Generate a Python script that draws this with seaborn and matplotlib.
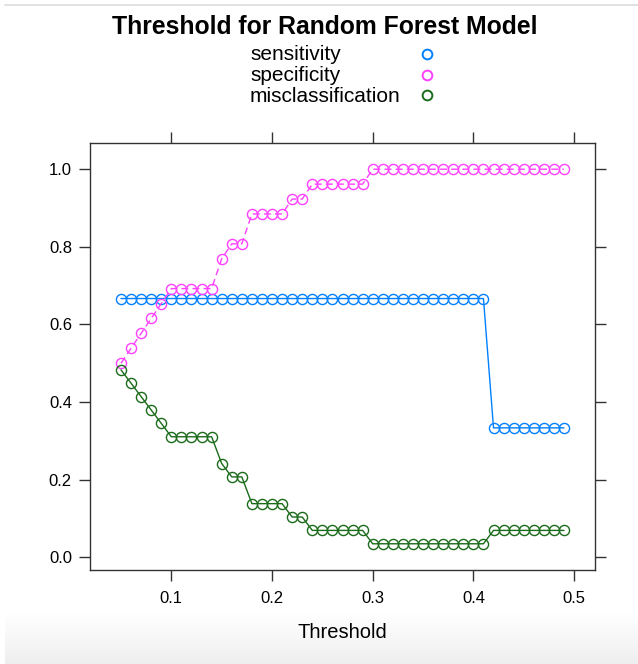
import numpy as np
import pandas as pd
import matplotlib
matplotlib.use("Agg")
import matplotlib.pyplot as plt
import seaborn as sns

# Classification metrics of the random forest across probability cut-offs
threshold = [round(0.05 + 0.01 * i, 2) for i in range(45)]

sensitivity = [2/3] * 37 + [1/3] * 8

specificity = ([13/26, 14/26, 15/26, 16/26, 17/26]
               + [18/26] * 5
               + [20/26]
               + [21/26] * 2
               + [23/26] * 4
               + [24/26] * 2
               + [25/26] * 6
               + [1.0] * 20)

misclassification = ([14/29, 13/29, 12/29, 11/29, 10/29]
                     + [9/29] * 5
                     + [7/29]
                     + [6/29] * 2
                     + [4/29] * 4
                     + [3/29] * 2
                     + [2/29] * 6
                     + [1/29] * 12
                     + [2/29] * 8)

series_names = ["sensitivity", "specificity", "misclassification"]
series_colors = ["#0080ff", "#ff40ff", "#1a6b1a"]
series_dashes = ["-", (0, (5, 3)), "-"]

df = pd.DataFrame({
    "Threshold": threshold * 3,
    "value": sensitivity + specificity + misclassification,
    "metric": np.repeat(series_names, len(threshold)),
})

sns.set_style("white")
plt.rcParams["font.family"] = ["Liberation Sans", "DejaVu Sans"]
plt.rcParams["text.color"] = "black"
plt.rcParams["axes.labelcolor"] = "black"
plt.rcParams["xtick.color"] = "black"
plt.rcParams["ytick.color"] = "black"

fig = plt.figure(figsize=(6.38, 6.64), dpi=100)

# Background layer: thin rule at the top, soft grey band at the bottom
back = fig.add_axes([0, 0, 1, 1], zorder=-5)
back.axis("off")
shade = np.linspace(1.0, 0.935, 50)
grad = np.repeat(shade[:, None, None], 3, axis=2)
grad = np.repeat(grad, 10, axis=1)
back.imshow(grad, extent=(5, 638, 664, 614), aspect="auto",
            interpolation="bilinear")
back.plot([5, 638], [5, 5], color="#dcdcdc", linewidth=1.2)
back.set_xlim(0, 638)
back.set_ylim(664, 0)

ax = fig.add_axes([90 / 638, 94 / 664, 505 / 638, 427 / 664])

for name, col, ls in zip(series_names, series_colors, series_dashes):
    sub = df[df["metric"] == name]
    sns.lineplot(data=sub, x="Threshold", y="value", ax=ax, color=col,
                 linestyle=ls, linewidth=1.0, marker="o", markersize=7.3,
                 markerfacecolor="none", markeredgecolor=col,
                 markeredgewidth=1.0, legend=False)

ax.set_xlim(0.0192, 0.5208)
ax.set_ylim(-0.0331, 1.0676)
ax.set_xticks([0.1, 0.2, 0.3, 0.4, 0.5])
ax.set_yticks([0.0, 0.2, 0.4, 0.6, 0.8, 1.0])
ax.set_xticklabels(["0.1", "0.2", "0.3", "0.4", "0.5"])
ax.set_yticklabels(["0.0", "0.2", "0.4", "0.6", "0.8", "1.0"])
ax.tick_params(axis="both", which="both", direction="out", length=8,
               width=1.0, color="#333333", labelsize=12, pad=5,
               top=True, right=True, bottom=True, left=True,
               labeltop=False, labelright=False)
ax.tick_params(axis="x", pad=7)
for sp in ax.spines.values():
    sp.set_visible(True)
    sp.set_color("#333333")
    sp.set_linewidth(1.0)
ax.set_xlabel("Threshold", fontsize=14.5, labelpad=12)
ax.set_ylabel("")

# Title and key placed in pixel coordinates
over = fig.add_axes([0, 0, 1, 1], zorder=5)
over.axis("off")
over.patch.set_alpha(0)

over.text(325, 27, "Threshold for Random Forest Model", fontsize=17.8,
          fontweight="bold", ha="center", va="center", color="black")

for i, (name, col) in enumerate(zip(series_names, series_colors)):
    yy = 54 + 20.5 * i
    over.text(250, yy + 1, name, fontsize=15, ha="left", va="center",
              color="black")
    over.plot([427], [yy], linestyle="none", marker="o", markersize=7,
              markerfacecolor="none", markeredgecolor=col,
              markeredgewidth=1.4)
over.set_xlim(0, 638)
over.set_ylim(664, 0)

fig.savefig("out.png", dpi=100)
